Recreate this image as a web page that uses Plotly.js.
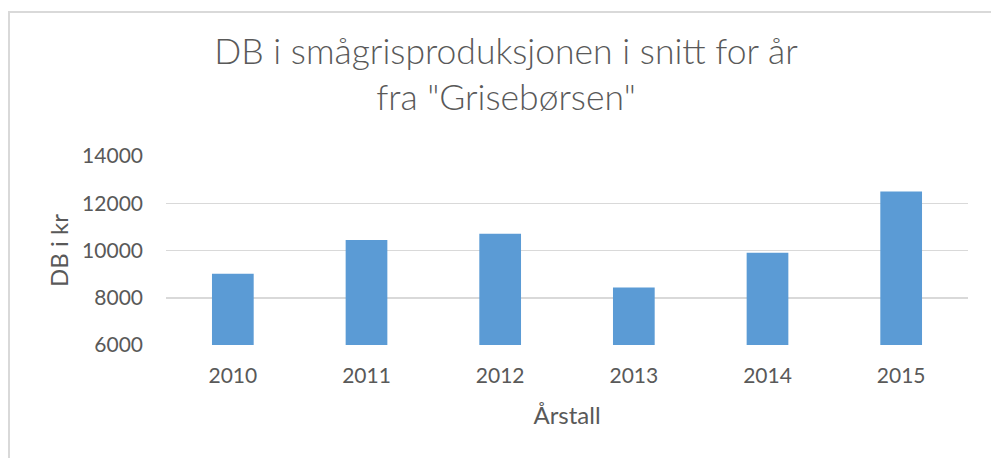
<!DOCTYPE html>
<html>
<head>
<meta charset="utf-8">
<script src="https://cdn.plot.ly/plotly-3.0.1.min.js"></script>
<style>
  html, body { margin: 0; padding: 0; background: #ffffff; }
  #chart { width: 991px; height: 458px; position: relative; }
  #frame { position: absolute; left: 8px; top: 11px; width: 990px; height: 460px;
           border-left: 2px solid #d9d9d9; border-top: 2px solid #d9d9d9; pointer-events: none; }
</style>
</head>
<body>
<div id="chart"></div>
<div id="frame"></div>
<script>
const years = ["2010", "2011", "2012", "2013", "2014", "2015"];
const dbValues = [9020, 10440, 10710, 8430, 9910, 12500];
const yTicks = [6000, 8000, 10000, 12000, 14000];

const FONT = "Lato, 'Open Sans', sans-serif";
const GREY = "#595959";

const trace = {
  type: "bar",
  x: years,
  y: dbValues,
  marker: { color: "#5b9bd5", line: { width: 0 } },
  width: 0.312,
  hoverinfo: "x+y"
};

const layout = {
  width: 991,
  height: 458,
  paper_bgcolor: "#ffffff",
  plot_bgcolor: "#ffffff",
  margin: { l: 166, r: 23, t: 156, b: 113, pad: 0 },
  showlegend: false,
  title: {
    text: "DB i smågrisproduksjonen i snitt for år<br>fra \"Grisebørsen\"",
    font: { family: FONT, size: 35.5, color: GREY, weight: 300 },
    x: 506 / 991,
    xref: "container",
    xanchor: "center",
    y: 1 - 64 / 458,
    yref: "container",
    yanchor: "top"
  },
  xaxis: {
    type: "category",
    tickfont: { family: FONT, size: 21, color: GREY },
    showgrid: false,
    showline: false,
    zeroline: false,
    ticks: "",
    ticklabelstandoff: 16,
    title: { text: "Årstall", font: { family: FONT, size: 24, color: GREY }, standoff: 21 }
  },
  yaxis: {
    range: [6000, 14000],
    tickvals: yTicks,
    ticktext: yTicks.map(String),
    tickfont: { family: FONT, size: 21, color: GREY },
    showgrid: true,
    gridcolor: "#d9d9d9",
    gridwidth: 1.5,
    zeroline: false,
    showline: false,
    ticks: "",
    ticklabelstandoff: 22,
    title: { text: "DB i kr", font: { family: FONT, size: 24, color: GREY }, standoff: 6 }
  }
};

Plotly.newPlot("chart", [trace], layout, { displayModeBar: false, staticPlot: true });
</script>
</body>
</html>
